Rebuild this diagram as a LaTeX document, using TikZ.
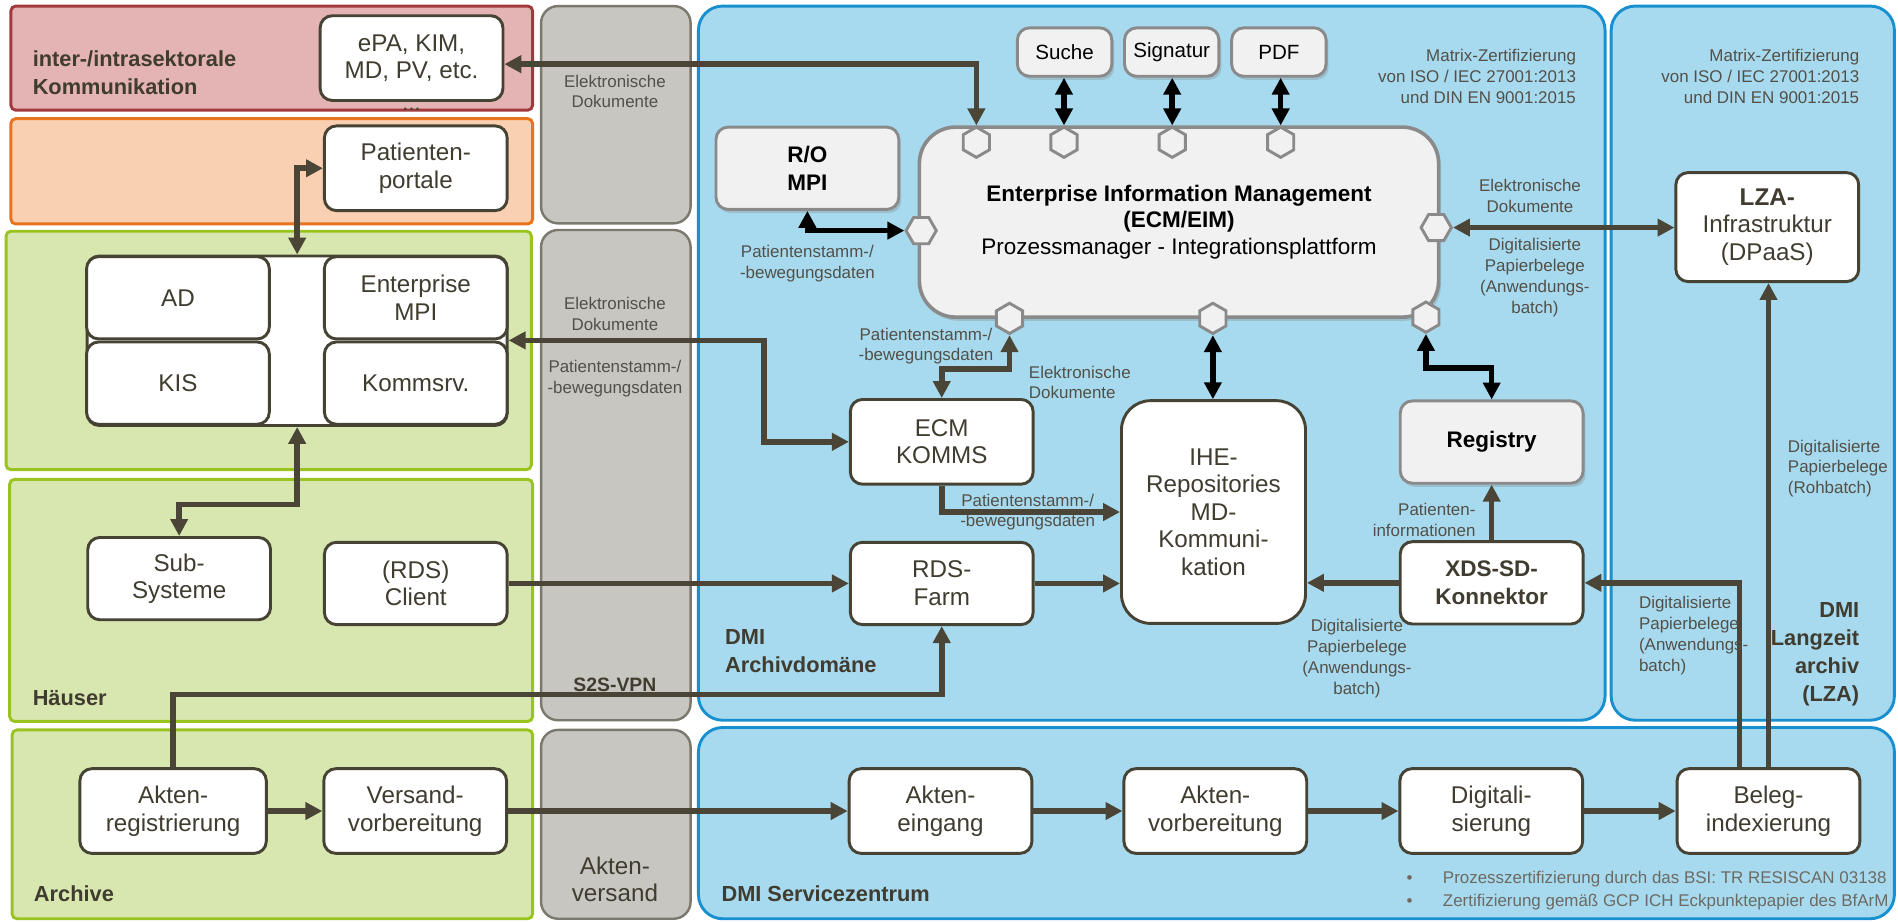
\documentclass[tikz,border=0pt]{standalone}
\usepackage{fontspec}
\setmainfont{Liberation Sans}
\usepackage{tikz}
\usetikzlibrary{arrows.meta,positioning,shapes.geometric,shadows}

\definecolor{darktxt}{RGB}{64,60,48}
\definecolor{lblcol}{RGB}{82,80,72}
\definecolor{boxline}{RGB}{70,66,52}
\definecolor{arrowcol}{RGB}{74,69,54}
\definecolor{hexline}{RGB}{138,138,138}
\definecolor{eimfill}{RGB}{241,241,241}
\definecolor{redfill}{RGB}{228,179,180}
\definecolor{redline}{RGB}{162,57,61}
\definecolor{orfill}{RGB}{249,209,178}
\definecolor{orline}{RGB}{232,115,30}
\definecolor{grfill}{RGB}{216,231,175}
\definecolor{grline}{RGB}{153,195,30}
\definecolor{bandfill}{RGB}{199,198,193}
\definecolor{bandline}{RGB}{123,121,109}
\definecolor{bluefill}{RGB}{167,218,238}
\definecolor{blueline}{RGB}{24,144,207}

\begin{document}
\begin{tikzpicture}[x=0.5pt,y=-0.5pt,
    >={Triangle[length=7pt,width=7pt]},
    box/.style={draw=boxline,line width=1.2pt,fill=white,rounded corners=5pt,
      minimum width=75.5pt,minimum height=35pt,align=center,text=darktxt,
      font=\fontsize{10}{11.4}\selectfont},
    gbox/.style={box,draw=hexline,fill=eimfill,text=black,
      drop shadow={shadow xshift=1pt,shadow yshift=-1.5pt,opacity=0.3}},
    hexv/.style={regular polygon,regular polygon sides=6,shape border rotate=30,
      draw=hexline,fill=eimfill,line width=1.2pt,minimum size=12.5pt,inner sep=0pt},
    hexh/.style={hexv,shape border rotate=0},
    conn/.style={draw=arrowcol,line width=2.3pt},
    blk/.style={draw=black,line width=2.3pt},
    lbl/.style={text=lblcol,align=center,font=\fontsize{7}{8.6}\selectfont},
    head/.style={text=darktxt,font=\fontsize{9}{11.5}\selectfont\bfseries},
    panel/.style={line width=1.2pt,rounded corners=2pt}]

    \useasboundingbox (0,0) rectangle (1568,761);

    % Bereiche
    \filldraw[panel,fill=redfill,draw=redline] (9,5) rectangle (440,91);
    \filldraw[panel,fill=orfill,draw=orline] (9,98) rectangle (440,185);
    \filldraw[panel,fill=grfill,draw=grline] (5,191) rectangle (439,388);
    \filldraw[panel,fill=grfill,draw=grline] (8,396) rectangle (440,596);
    \filldraw[panel,fill=grfill,draw=grline] (10,603) rectangle (440,759);
    \filldraw[panel,rounded corners=7pt,line width=1pt,fill=bandfill,draw=bandline] (447,5) rectangle (570.5,184.5);
    \filldraw[panel,rounded corners=7pt,line width=1pt,fill=bandfill,draw=bandline] (447,190) rectangle (570.5,595);
    \filldraw[panel,rounded corners=7pt,line width=1pt,fill=bandfill,draw=bandline] (447,603) rectangle (570.5,759);
    \filldraw[panel,rounded corners=10pt,fill=bluefill,draw=blueline] (577,5) rectangle (1326,595);
    \filldraw[panel,rounded corners=10pt,fill=bluefill,draw=blueline] (1331,5) rectangle (1565,595);
    \filldraw[panel,rounded corners=10pt,fill=bluefill,draw=blueline] (577,601) rectangle (1565,759);

    \node[head,anchor=west,align=left] (hdkom) at (20,60) {inter-/intrasektorale\\Kommunikation};
    \node[head,anchor=west] (hdhaus) at (20,577) {Häuser};
    \node[head,anchor=west] (hdarch) at (21,738) {Archive};
    \node[head,anchor=west,align=left] (hddmi) at (592,538) {DMI\\Archivdomäne};
    \node[head,anchor=east,align=right] (hdlza) at (1543,540.5) {DMI\\Langzeit\\archiv\\(LZA)};
    \node[head,anchor=west] (hdsz) at (589,738) {DMI Servicezentrum};
    \node[head,font=\fontsize{8}{9.5}\selectfont\bfseries] (hdvpn) at (508,566) {S2S-VPN};

    % Krankenhaus
    \node[box] (epa) at (340,48) {ePA, KIM,\\MD, PV, etc.};
    \node[text=darktxt,font=\fontsize{9}{10}\selectfont] (dots) at (340,90) {...};
    \node[box] (portal) at (343.5,139) {Patienten-\\portale};
    \node[box,minimum width=173.5pt,minimum height=70pt] (clus) at (245.5,281.5) {};
    \node[box,minimum height=34pt] (ad) at (147,246) {AD};
    \node[box,minimum height=34pt] (kis) at (147,316.5) {KIS};
    \node[box,minimum height=34pt] (empi) at (343.5,246) {Enterprise\\MPI};
    \node[box,minimum height=34pt] (komsrv) at (343.5,316.5) {Kommsrv.};
    \node[box,minimum height=34pt] (subsys) at (148,478) {Sub-\\Systeme};
    \node[box,minimum height=34pt] (client) at (343.5,482) {(RDS)\\Client};
    \node[box,minimum width=77pt] (akreg) at (143,670) {Akten-\\registrierung};
    \node[box] (versand) at (343,670) {Versand-\\vorbereitung};

    % Transport
    \node[lbl] (bandtop) at (508,75.5) {Elektronische\\Dokumente};
    \node[lbl] (banddok) at (508,259.5) {Elektronische\\Dokumente};
    \node[lbl] (bandpat) at (508,312.5) {Patientenstamm-/\\-bewegungsdaten};
    \node[text=darktxt,align=center,font=\fontsize{10}{11.4}\selectfont] (versandlbl) at (508,726.5) {Akten-\\versand};

    % Archivdomaene
    \node[gbox,minimum width=39pt,minimum height=20pt,font=\fontsize{8.5}{10}\selectfont] (suche) at (879.5,43) {Suche};
    \node[gbox,minimum width=39pt,minimum height=20pt,font=\fontsize{8.5}{10}\selectfont] (signatur) at (968,43) {Signatur};
    \node[gbox,minimum width=39pt,minimum height=20pt,font=\fontsize{8.5}{10}\selectfont] (pdf) at (1056.5,43) {PDF};
    \node[gbox,minimum height=34pt,font=\fontsize{9.3}{11.5}\selectfont\bfseries] (ropi) at (667,139) {R/O\\MPI};
    \node[gbox,rounded corners=15pt,line width=1.5pt,minimum width=214.5pt,minimum height=78.5pt,
          font=\fontsize{9.3}{10.8}\selectfont] (eim) at (974,183.5)
          {\textbf{Enterprise Information Management}\\\textbf{(ECM/EIM)}\\Prozessmanager - Integrationsplattform};
    \node[hexv] (hT1) at (806.6,117.5) {};
    \node[hexv] (hT2) at (879,117.5) {};
    \node[hexv] (hT3) at (968.4,117.5) {};
    \node[hexv] (hT4) at (1058,117.5) {};
    \node[hexh] (hL) at (761,190.5) {};
    \node[hexh] (hR) at (1186.5,188) {};
    \node[hexv] (hB1) at (834,263) {};
    \node[hexv] (hB2) at (1002,263) {};
    \node[hexv] (hB3) at (1178,262) {};

    \node[box] (komms) at (778,365) {ECM\\KOMMS};
    \node[box,minimum height=34pt] (farm) at (778,482) {RDS-\\Farm};
    \node[box,minimum width=76pt,minimum height=92pt,rounded corners=12pt] (ihe) at (1002.5,423)
          {IHE-\\Repositories\\MD-\\Kommuni-\\kation};
    \node[gbox,minimum height=34pt,font=\fontsize{9.3}{11.5}\selectfont\bfseries] (reg) at (1232.3,365.2) {Registry};
    \node[box,minimum height=34pt,font=\fontsize{9.3}{11.5}\selectfont\bfseries] (xds) at (1232.3,481.5) {XDS-SD-\\Konnektor};
    \node[box,minimum height=45pt] (lza) at (1460,187.6) {\textbf{LZA-}\\Infrastruktur\\(DPaaS)};

    \node[lbl,anchor=east,align=right] (cert1) at (1309,63) {Matrix-Zertifizierung\\von ISO / IEC 27001:2013\\und DIN EN 9001:2015};
    \node[lbl,anchor=east,align=right] (cert2) at (1543,63) {Matrix-Zertifizierung\\von ISO / IEC 27001:2013\\und DIN EN 9001:2015};

    % Servicezentrum
    \node[box] (akein) at (777,670) {Akten-\\eingang};
    \node[box] (akvor) at (1004,670) {Akten-\\vorbereitung};
    \node[box] (digi) at (1232,670) {Digitali-\\sierung};
    \node[box] (beleg) at (1461,670) {Beleg-\\indexierung};
    \node[lbl,anchor=west,align=left,text=lblcol!85!white] (bul1) at (1155,726)
          {\makebox[15pt][l]{\textbullet}Prozesszertifizierung durch das BSI: TR RESISCAN 03138};
    \node[lbl,anchor=west,align=left,text=lblcol!85!white] (bul2) at (1155,745)
          {\makebox[15pt][l]{\textbullet}Zertifizierung gemäß GCP ICH Eckpunktepapier des BfArM};

    % Verbindungen
    \draw[conn,<->] ([yshift=-2.5pt]epa.east) -| (hT1.north);
    \draw[blk,<->] (hT2.north |- suche.south) -- (hT2.north);
    \draw[blk,<->] (hT3.north |- signatur.south) -- (hT3.north);
    \draw[blk,<->] (hT4.north |- pdf.south) -- (hT4.north);
    \draw[blk,<->] (ropi.south) |- (hL.west);
    \draw[conn,<->] (empi.south east) -- ++(211,0) |- (komms.west);
    \draw[conn,<->] (hB1.south) -- ++(0,28) -| (komms.north);
    \draw[blk,<->] (hB2.south) -- (hB2.south |- ihe.north);
    \draw[blk,<->] (hB3.south) -- ++(0,28) -| (reg.north);
    \draw[conn,<->] (hR.east) -- (hR.east -| lza.west);
    \draw[conn,<->] (portal.west) -| (clus.north);
    \draw[conn,<->] (clus.south) -- ++(0,64) -| (subsys.north);
    \draw[conn,->] (client.east) -- (client.east -| farm.west);
    \draw[conn,->] (komms.south) |- (ihe.west);
    \draw[conn,->] (farm.east) -- (farm.east -| ihe.west);
    \draw[conn,->] (xds.west) -- (xds.west -| ihe.east);
    \draw[conn,->] (xds.north) -- (reg.south);
    \draw[conn,->] (akreg.north) -- ++(0,-60) -| (farm.south);
    \draw[conn,->] (akreg) -- (versand);
    \draw[conn,->] (versand) -- (akein);
    \draw[conn,->] (akein) -- (akvor);
    \draw[conn,->] (akvor) -- (digi);
    \draw[conn,->] (digi) -- (beleg);
    \draw[conn,->] ([xshift=-12pt]beleg.north) |- (xds.east);
    \draw[conn,->] (beleg.north) -- (beleg.north |- lza.south);

    % Beschriftungen
    \node[lbl] (patmpi) at (667,218) {Patientenstamm-/\\-bewegungsdaten};
    \node[lbl] (patkom) at (765,286) {Patientenstamm-/\\-bewegungsdaten};
    \node[lbl,anchor=west,align=left] (dokkom) at (843,316) {Elektronische\\Dokumente};
    \node[lbl] (patihe) at (849,423) {Patientenstamm-/\\-bewegungsdaten};
    \node[lbl,anchor=east,align=right] (patinf) at (1226,429.5) {Patienten-\\informationen};
    \node[lbl] (digxds) at (1121,544) {Digitalisierte\\Papierbelege\\(Anwendungs-\\batch)};
    \node[lbl,anchor=west,align=left] (digbeleg) at (1347,525) {Digitalisierte\\Papierbelege\\(Anwendungs-\\batch)};
    \node[lbl,anchor=west,align=left] (digroh) at (1470,387) {Digitalisierte\\Papierbelege\\(Rohbatch)};
    \node[lbl] (doklza) at (1264,162) {Elektronische\\Dokumente};
    \node[lbl] (diglza) at (1268,229.5) {Digitalisierte\\Papierbelege\\(Anwendungs-\\batch)};
\end{tikzpicture}
\end{document}
